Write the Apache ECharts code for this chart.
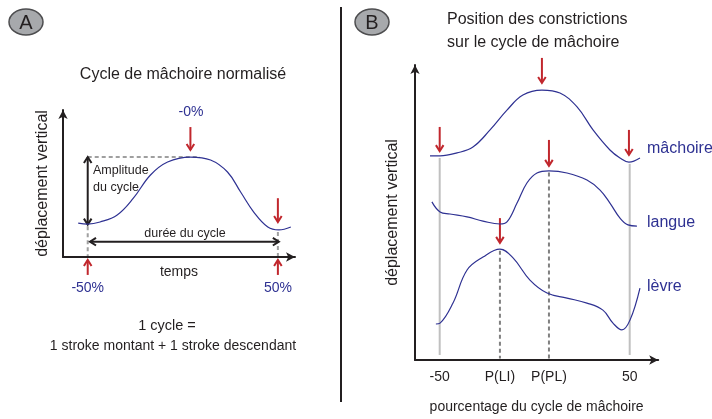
<!DOCTYPE html>
<html>
<head>
<meta charset="utf-8">
<script src="https://cdn.jsdelivr.net/npm/echarts@6/dist/echarts.min.js"></script>
<style>
  html, body { margin: 0; padding: 0; background: #fff; }
  #chart { width: 712px; height: 419px; }
</style>
</head>
<body>
<div id="chart"></div>
<script>
// ---- panel A : cycle de mâchoire normalisé (x = % du cycle, y = déplacement) ----
const cycleX = [-55, -50, -43.5, -34.5, -26, -17, -8, 4, 14.6, 23.5, 30.4, 37.3, 44.7, 50.5, 56.8];
const cycleY = [23, 22.4, 23.8, 28.6, 40, 55.8, 64.6, 68, 66, 57.8, 44.2, 30.6, 20.4, 18.4, 20.4];
const ticksA = [-50, 50];
const tickLabelsA = ['-50%', '50%'];

// ---- panel B : position des constrictions ----
const jawX = [-55.1, -49.8, -40.9, -32.5, -23.5, -14.6, -6.2, 3.8, 13.3, 22.3, 30.7, 39.6, 44.9, 49.6, 55.4];
const jawY = [69.2, 69.2, 70.2, 72.2, 78, 84.7, 89.8, 91.5, 90.5, 85.8, 78, 71.2, 68.5, 67.1, 68.5];
const tongueX = [-54.1, -49.8, -44.6, -35.6, -27.2, -18.3, -14.6, -9.3, -4.1, 1.2, 7.5, 17, 27.5, 34.4, 39.6, 44.9, 49.1, 53.8];
const tongueY = [53.6, 50.2, 49.5, 48.5, 47.1, 46.1, 46.8, 53.2, 60, 63.4, 64.1, 63.4, 61, 57.6, 53.2, 48.1, 45.8, 45.4];
const lipX = [-52, -49.8, -43, -35.6, -27.2, -18.3, -11.4, -2.5, 6.5, 17, 27.5, 35.9, 41.2, 45.9, 50.2, 55.4];
const lipY = [12.2, 12.5, 19.3, 30.5, 34.9, 37.6, 34.6, 27.1, 22.7, 21, 19.3, 16.9, 12.5, 10.2, 13.6, 24.4];
const ticksB = [-50, -18.3, 7.5, 50];
const tickLabelsB = ['-50', 'P(LI)', 'P(PL)', '50'];

// guides, in data units: [x, yFrom, yTo]
const redArrowsA = [[4, 88.4, 72.8], [50, 40, 23.8], [-50, -12.2, -2], [50, -12.2, -2]];
const redArrowsB = [[-50, 79, 70.8], [3.8, 102.4, 93.9], [49.6, 78, 69.5], [7.5, 74.6, 65.8], [-18.3, 48.1, 39.7]];

const INK = '#231f20';
const BLUE = '#2e3192';
const RED = '#c1272d';
const FONT = "'Liberation Sans', Arial, sans-serif";

const chart = echarts.init(document.getElementById('chart'));
const zip = (xs, ys) => xs.map((x, i) => [x, ys[i]]);

const axisLine = {
  onZero: false,
  lineStyle: { color: INK, width: 2 },
  symbol: ['none', 'arrow'],
  symbolSize: [7, 9]
};

function xAxisOf(grid, min, max, ticks, labels, extra) {
  return Object.assign({
    gridIndex: grid, type: 'value', min: min, max: max,
    axisLine: axisLine,
    axisTick: { show: false },
    splitLine: { show: false },
    axisLabel: {
      customValues: ticks,
      formatter: v => labels[ticks.indexOf(v)] || '',
      fontFamily: FONT, fontSize: 14, color: INK
    },
    nameLocation: 'middle',
    nameTextStyle: { fontFamily: FONT, fontSize: 14, color: INK }
  }, extra);
}

function yAxisOf(grid, gap) {
  return {
    gridIndex: grid, type: 'value', min: 0, max: 100,
    axisLine: axisLine,
    axisTick: { show: false },
    splitLine: { show: false },
    axisLabel: { show: false },
    name: 'déplacement vertical',
    nameLocation: 'middle',
    nameRotate: 90,
    nameGap: gap,
    nameTextStyle: { fontFamily: FONT, fontSize: 16, color: INK }
  };
}

function curve(grid, xs, ys) {
  return {
    type: 'line', xAxisIndex: grid, yAxisIndex: grid,
    data: zip(xs, ys), smooth: 0.4, symbol: 'none', silent: true,
    lineStyle: { color: BLUE, width: 1.2 }
  };
}

chart.setOption({
  animation: false,
  textStyle: { fontFamily: FONT },
  grid: [
    { left: 63, top: 110, width: 232, height: 147, outerBoundsMode: 'none' },
    { left: 415, top: 65, width: 243.2, height: 295, outerBoundsMode: 'none' }
  ],
  xAxis: [
    xAxisOf(0, -63, 59, ticksA, tickLabelsA, { name: 'temps', nameGap: 8, nameMoveOverlap: false }),
    xAxisOf(1, -63, 65, ticksB, tickLabelsB, { name: 'pourcentage du cycle de mâchoire', nameGap: 40 })
  ],
  yAxis: [yAxisOf(0, 12), yAxisOf(1, 14)],
  series: [
    curve(0, cycleX, cycleY),
    curve(1, jawX, jawY),
    curve(1, tongueX, tongueY),
    curve(1, lipX, lipY)
  ]
});
// blue percent labels on panel A
chart.setOption({ xAxis: [{ axisLabel: { color: BLUE, margin: 24 } }, { axisLabel: { margin: 10 } }] });

// ---- guides and annotations, placed through the axes ----
const P = (g, x, y) => chart.convertToPixel({ gridIndex: g }, [x, y]);

function seg(a, b, stroke, w, dash) {
  return { type: 'line', silent: true, shape: { x1: a[0], y1: a[1], x2: b[0], y2: b[1] },
    style: { stroke: stroke, lineWidth: w, lineDash: dash || null } };
}
function head(tip, from, stroke, w) {
  const dx = tip[0] - from[0], dy = tip[1] - from[1], len = Math.hypot(dx, dy);
  const ux = dx / len, uy = dy / len, L = 6, H = 3.8;
  const bx = tip[0] - ux * L, by = tip[1] - uy * L;
  return { type: 'polyline', silent: true,
    shape: { points: [[bx - uy * H, by + ux * H], tip, [bx + uy * H, by - ux * H]] },
    style: { stroke: stroke, lineWidth: w, fill: null } };
}
function arrow(g, x1, y1, x2, y2, stroke, w, both) {
  const a = P(g, x1, y1), b = P(g, x2, y2);
  const out = [seg(a, b, stroke, w), head(b, a, stroke, w)];
  if (both) out.push(head(a, b, stroke, w));
  return out;
}
function text(x, y, str, size, color, align) {
  return { type: 'text', silent: true, x: x, y: y,
    style: { text: str, font: size + 'px ' + FONT, fill: color, align: align || 'center', verticalAlign: 'middle' } };
}
function badge(cx, cy, letter) {
  return [
    { type: 'ellipse', silent: true, shape: { cx: cx, cy: cy, rx: 17, ry: 13 },
      style: { fill: '#a7a9ac', stroke: '#4d4d4f', lineWidth: 1.5 } },
    text(cx, cy + 1, letter, 20, INK)
  ];
}

const g = [];
// panel A guides
g.push(seg(P(0, -50, 68), P(0, 9, 68), '#808080', 1.5, [4, 3]));
g.push(seg(P(0, -50, 21), P(0, -50, 0), '#a0a0a0', 2, [4, 3]));
g.push(seg(P(0, 50, 17), P(0, 50, 0), '#a0a0a0', 2, [4, 3]));
g.push(...arrow(0, -50, 22, -50, 68, INK, 2, true));
g.push(...arrow(0, -48.8, 10.4, 50.5, 10.4, INK, 2, true));
redArrowsA.forEach(r => g.push(...arrow(0, r[0], r[1], r[0], r[2], RED, 2)));

// panel B guides
g.push(seg(P(1, -50, 68.5), P(1, -50, 1.7), '#c0c0c0', 2));
g.push(seg(P(1, 50, 66.5), P(1, 50, 1.7), '#c0c0c0', 2));
g.push(seg(P(1, -18.3, 37), P(1, -18.3, 0.5), '#808080', 2, [4, 3]));
g.push(seg(P(1, 7.5, 63.6), P(1, 7.5, 0.5), '#808080', 2, [4, 3]));
redArrowsB.forEach(r => g.push(...arrow(1, r[0], r[1], r[0], r[2], RED, 2)));

// texts
g.push(text(183, 75, 'Cycle de mâchoire normalisé', 16, INK));
g.push(text(191, 112, '-0%', 14, BLUE));
g.push(text(93, 171, 'Amplitude', 12.5, INK, 'left'));
g.push(text(93, 188, 'du cycle', 12.5, INK, 'left'));
g.push(text(185, 234, 'durée du cycle', 12.5, INK));
g.push(text(167, 326, '1 cycle =', 14.5, INK));
g.push(text(173, 346, '1 stroke montant + 1 stroke descendant', 14, INK));
g.push(text(447, 20, 'Position des constrictions', 16, INK, 'left'));
g.push(text(447, 43, 'sur le cycle de mâchoire', 16, INK, 'left'));
g.push(text(647, 149, 'mâchoire', 16, BLUE, 'left'));
g.push(text(647, 223, 'langue', 16, BLUE, 'left'));
g.push(text(647, 287, 'lèvre', 16, BLUE, 'left'));

// panel divider and badges
g.push(seg([341, 7], [341, 402], INK, 2));
g.push(...badge(26, 22, 'A'));
g.push(...badge(372, 22, 'B'));

chart.setOption({ graphic: { elements: g } });
</script>
</body>
</html>
